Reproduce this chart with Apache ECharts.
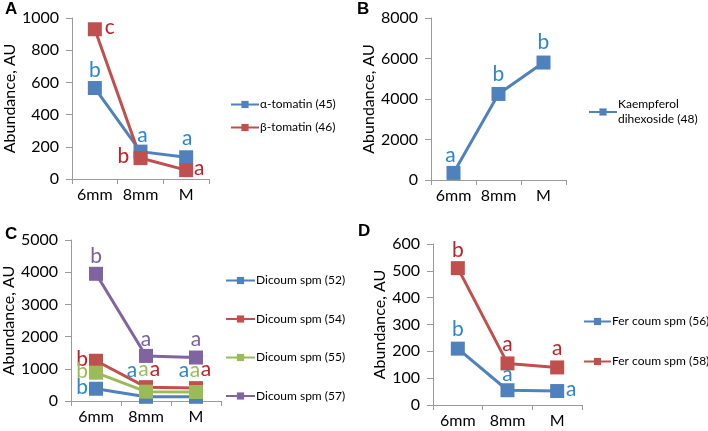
<!DOCTYPE html>
<html><head><meta charset="utf-8">
<script src="https://cdn.jsdelivr.net/npm/echarts@6/dist/echarts.min.js"></script>
<style>html,body{margin:0;padding:0;background:#fff}#c{width:708px;height:431px}</style>
</head><body><div id="c"></div>
<script>
// ---- data ----
var categories = ['6mm', '8mm', 'M'];
// Panel A
var alphaTomatin = [565, 170, 135];
var betaTomatin = [930, 130, 55];
var alphaLetters = ['b', 'a', 'a'];
var betaLetters = ['c', 'b', 'a'];
// Panel B
var kaempferol = [350, 4250, 5800];
var kaempLetters = ['a', 'b', 'b'];
// Panel C
var dicoum52 = [380, 130, 130];
var dicoum54 = [1250, 430, 400];
var dicoum55 = [880, 290, 280];
var dicoum57 = [3950, 1400, 1350];
var d52Letters = ['b', 'a', 'a'];
var d54Letters = ['b', 'a', 'a'];
var d55Letters = ['b', 'a', 'a'];
var d57Letters = ['b', 'a', 'a'];
// Panel D
var fer56 = [210, 55, 52];
var fer58 = [510, 155, 140];
var f56Letters = ['b', 'a', 'a'];
var f58Letters = ['b', 'a', 'a'];
// tick settings
var yMaxA = 1000, yStepA = 200;
var yMaxB = 8000, yStepB = 2000;
var yMaxC = 5000, yStepC = 1000;
var yMaxD = 600, yStepD = 100;

// ---- styles ----
var BLUE = '#4F81BD', RED = '#C0504D', GREEN = '#9BBB59', PURPLE = '#8064A2';
var LBLUE = '#2F86CC', LRED = '#C0202A', LGREEN = '#9BBB59', LPURPLE = '#7B5FA0';
var FONT = 'Lato, "Open Sans", sans-serif';
var AXC = '#9a9a9a';

function mkData(vals, letters, offsets, color) {
  return vals.map(function (v, i) {
    return {
      value: v,
      label: {
        show: true, position: 'inside', formatter: letters[i],
        offset: offsets[i], color: color, fontSize: 21, fontFamily: FONT
      }
    };
  });
}
function mkSeries(name, idx, vals, letters, offsets, color, lcolor) {
  return {
    name: name, type: 'line', xAxisIndex: idx, yAxisIndex: idx,
    data: mkData(vals, letters, offsets, lcolor),
    symbol: 'rect', symbolSize: 14, color: color,
    lineStyle: { width: 3, color: color },
    itemStyle: { color: color },
    emphasis: { disabled: true }, animation: false
  };
}
function mkX(idx) {
  return {
    type: 'category', gridIndex: idx, data: categories, boundaryGap: true,
    axisLine: { lineStyle: { color: AXC, width: 1 } },
    axisTick: { show: true, length: 5, interval: 0, lineStyle: { color: AXC } },
    axisLabel: { color: '#000', fontSize: 16, fontFamily: FONT, margin: 8, interval: 0, hideOverlap: false }
  };
}
function mkY(idx, max, step, gap) {
  return {
    type: 'value', gridIndex: idx, min: 0, max: max, interval: step,
    name: 'Abundance, AU', nameLocation: 'middle', nameGap: gap, nameRotate: 90,
    nameTextStyle: { color: '#000', fontSize: 16, fontFamily: FONT },
    axisLine: { show: true, lineStyle: { color: AXC, width: 1 } },
    axisTick: { show: true, length: 6, lineStyle: { color: AXC } },
    axisLabel: { color: '#000', fontSize: 16, fontFamily: FONT, margin: 13,
      formatter: function (v) { return String(v); } },
    splitLine: { show: false }
  };
}
function mkLegend(names, left, top, gap, w) {
  return {
    data: names, orient: 'vertical', left: left, top: top, itemGap: gap,
    itemWidth: w, itemHeight: 9, selectedMode: false,
    textStyle: { color: '#000', fontSize: 12, fontFamily: FONT, lineHeight: 15, padding: [0, 0, 0, -4] }
  };
}

var chart = echarts.init(document.getElementById('c'), null, { renderer: 'canvas' });
chart.setOption({
  animation: false,
  grid: [
    { left: 72, top: 18, width: 137, height: 161 },
    { left: 431, top: 18, width: 135, height: 162 },
    { left: 71, top: 240, width: 150, height: 161 },
    { left: 433, top: 244, width: 149, height: 161 }
  ],
  xAxis: [mkX(0), mkX(1), mkX(2), mkX(3)],
  yAxis: [mkY(0, yMaxA, yStepA, 47), mkY(1, yMaxB, yStepB, 50), mkY(2, yMaxC, yStepC, 50), mkY(3, yMaxD, yStepD, 43)],
  legend: [
    mkLegend(['α-tomatin (45)', 'β-tomatin (46)'], 225, 92, 8, 28),
    mkLegend(['Kaempferol\ndihexoside (48)'], 583, 92, 8, 28),
    mkLegend(['Dicoum spm (52)', 'Dicoum spm (54)', 'Dicoum spm (55)', 'Dicoum spm (57)'], 220, 268, 23.5, 29),
    mkLegend(['Fer coum spm (56)', 'Fer coum spm (58)'], 578, 309, 25, 27)
  ],
  graphic: [
    { type: 'text', left: 5, top: 1, style: { text: 'A', font: 'bold 17px "Liberation Sans", Arial', fill: '#000' } },
    { type: 'text', left: 357, top: 1, style: { text: 'B', font: 'bold 17px "Liberation Sans", Arial', fill: '#000' } },
    { type: 'text', left: 5, top: 226, style: { text: 'C', font: 'bold 17px "Liberation Sans", Arial', fill: '#000' } },
    { type: 'text', left: 358, top: 223, style: { text: 'D', font: 'bold 17px "Liberation Sans", Arial', fill: '#000' } }
  ],
  series: [
    mkSeries('α-tomatin (45)', 0, alphaTomatin, alphaLetters, [[0, -18], [2, -16], [1, -19]], BLUE, LBLUE),
    mkSeries('β-tomatin (46)', 0, betaTomatin, betaLetters, [[15, -2], [-17, -2], [13, -2]], RED, LRED),
    mkSeries('Kaempferol\ndihexoside (48)', 1, kaempferol, kaempLetters, [[-3, -18], [0, -20], [0, -20]], BLUE, LBLUE),
    mkSeries('Dicoum spm (52)', 2, dicoum52, d52Letters, [[-14, -2], [-14, -27], [-12, -27]], BLUE, LBLUE),
    mkSeries('Dicoum spm (54)', 2, dicoum54, d54Letters, [[-14, -2], [9, -17.5], [10, -18.5]], RED, LRED),
    mkSeries('Dicoum spm (55)', 2, dicoum55, d55Letters, [[-14, -1], [-2.5, -22], [-1, -22]], GREEN, LGREEN),
    mkSeries('Dicoum spm (57)', 2, dicoum57, d57Letters, [[0, -18], [0, -17], [0, -18]], PURPLE, LPURPLE),
    mkSeries('Fer coum spm (56)', 3, fer56, f56Letters, [[0, -19], [0, -16], [14, -2]], BLUE, LBLUE),
    mkSeries('Fer coum spm (58)', 3, fer58, f58Letters, [[0, -18], [0, -19], [0, -19]], RED, LRED)
  ]
});
</script></body></html>
